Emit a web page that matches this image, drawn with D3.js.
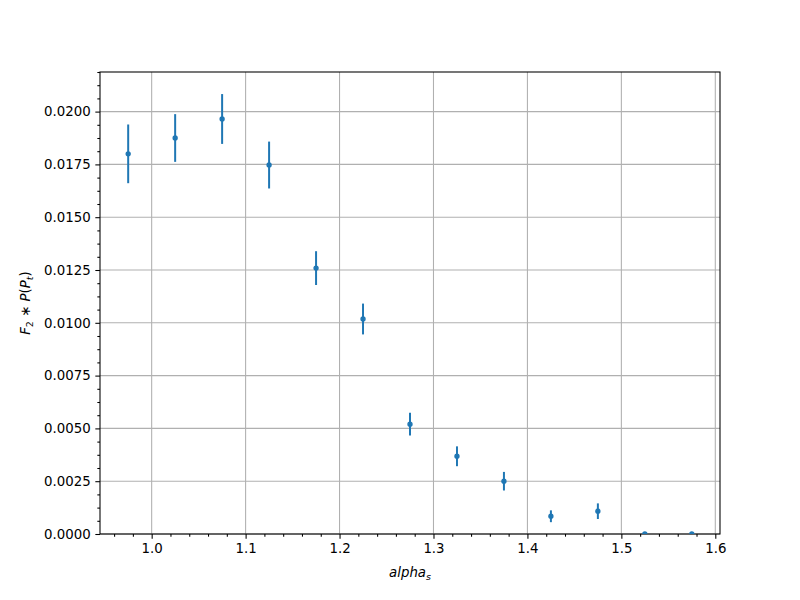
<!DOCTYPE html>
<html>
<head>
<meta charset="utf-8">
<script src="https://cdn.jsdelivr.net/npm/d3@7"></script>
<style>
  html, body { margin: 0; padding: 0; background: #fff; }
  svg { display: block; font-family: "DejaVu Sans", sans-serif; }
</style>
</head>
<body>
<svg id="chart" width="800" height="600"></svg>
<script>
// ---- data ----
const alphaS = [0.975, 1.025, 1.075, 1.125, 1.175, 1.225, 1.275, 1.325, 1.375, 1.425, 1.475, 1.525, 1.575];
const values = [0.0180, 0.01875, 0.01965, 0.01747, 0.01259, 0.01018, 0.0052, 0.00368, 0.0025, 0.00084, 0.00108, 0.0, 0.0];
const errors = [0.00139, 0.00113, 0.00118, 0.00111, 0.0008, 0.00073, 0.00054, 0.00047, 0.00044, 0.00028, 0.00037, 0.0, 0.0];
const xTicks = [1.0, 1.1, 1.2, 1.3, 1.4, 1.5, 1.6];
const yTicks = [0.0, 0.0025, 0.005, 0.0075, 0.01, 0.0125, 0.015, 0.0175, 0.02];

const svg = d3.select("#chart");
const L = 100, R = 720, T = 72, B = 534;
const color = "#1f77b4";

const x = d3.scaleLinear().domain([0.945, 1.605]).range([L, R]);
const y = d3.scaleLinear().domain([0, 0.021875]).range([B, T]);

// grid
const grid = svg.append("g");
grid.selectAll("line.gx").data(xTicks).join("line")
  .attr("x1", d => x(d)).attr("x2", d => x(d)).attr("y1", T).attr("y2", B)
  .attr("stroke", "#b0b0b0").attr("stroke-width", 1.07);
grid.selectAll("line.gy").data(yTicks).join("line")
  .attr("y1", d => y(d)).attr("y2", d => y(d)).attr("x1", L).attr("x2", R)
  .attr("stroke", "#b0b0b0").attr("stroke-width", 1.07);

// minor ticks
const xMinor = d3.range(0.96, 1.605, 0.02).filter(v => Math.abs(Math.round(v * 10) - v * 10) > 1e-6);
const yMinor = d3.range(0, 0.0219, 0.000625).filter(v => Math.abs(Math.round(v / 0.0025) - v / 0.0025) > 1e-6);

const xAxis = svg.append("g").attr("transform", `translate(0,${B})`)
  .call(d3.axisBottom(x).tickValues(xTicks).tickFormat(d3.format(".1f")).tickSizeOuter(0).tickSize(4.67).tickPadding(4.67));
const xMin = svg.append("g").attr("transform", `translate(0,${B})`)
  .call(d3.axisBottom(x).tickValues(xMinor).tickFormat("").tickSizeOuter(0).tickSize(2.67));
const yAxis = svg.append("g").attr("transform", `translate(${L},0)`)
  .call(d3.axisLeft(y).tickValues(yTicks).tickFormat(d3.format(".4f")).tickSizeOuter(0).tickSize(4.67).tickPadding(4.67));
const yMin = svg.append("g").attr("transform", `translate(${L},0)`)
  .call(d3.axisLeft(y).tickValues(yMinor).tickFormat("").tickSizeOuter(0).tickSize(2.67));

[xAxis, xMin, yAxis, yMin].forEach(g => {
  g.select(".domain").remove();
  g.selectAll(".tick line").attr("stroke", "#000").attr("stroke-width", 1.07);
  g.selectAll(".tick text").attr("font-size", "13.33px").attr("fill", "#000")
    .attr("font-family", "DejaVu Sans, sans-serif");
});

// frame
svg.append("rect").attr("x", L).attr("y", T).attr("width", R - L).attr("height", B - T)
  .attr("fill", "none").attr("stroke", "#000").attr("stroke-width", 1.07);

// clip
svg.append("clipPath").attr("id", "clip").append("rect")
  .attr("x", L).attr("y", T).attr("width", R - L).attr("height", B - T);

const data = alphaS.map((a, i) => ({ a, v: values[i], e: errors[i] }));
const plot = svg.append("g").attr("clip-path", "url(#clip)");
plot.selectAll("line.err").data(data).join("line")
  .attr("x1", d => x(d.a)).attr("x2", d => x(d.a))
  .attr("y1", d => y(d.v - d.e)).attr("y2", d => y(d.v + d.e))
  .attr("stroke", color).attr("stroke-width", 2);
plot.selectAll("circle").data(data).join("circle")
  .attr("cx", d => x(d.a)).attr("cy", d => y(d.v)).attr("r", 2)
  .attr("fill", color).attr("stroke", color).attr("stroke-width", 1.33);

// x label: alpha_s
const xl = svg.append("text").attr("x", (L + R) / 2).attr("y", 577)
  .attr("text-anchor", "middle").attr("font-size", "13.33px")
  .attr("font-style", "italic").attr("font-family", "DejaVu Sans, sans-serif");
xl.append("tspan").text("alpha");
xl.append("tspan").attr("font-size", "9.5px").attr("dy", 2.5).text("s");

// y label: F_2 * P(P_t)
const yl = svg.append("text").attr("transform", "translate(30,303) rotate(-90)")
  .attr("text-anchor", "middle").attr("font-size", "13.33px")
  .attr("font-family", "DejaVu Sans, sans-serif");
yl.append("tspan").attr("font-style", "italic").text("F");
yl.append("tspan").attr("font-size", "9.5px").attr("dy", 2.5).text("2");
yl.append("tspan").attr("dy", -2.5).text(" ∗ ");
yl.append("tspan").attr("font-style", "italic").text("P");
yl.append("tspan").text("(");
yl.append("tspan").attr("font-style", "italic").text("P");
yl.append("tspan").attr("font-size", "9.5px").attr("font-style", "italic").attr("dy", 2.5).text("t");
yl.append("tspan").attr("dy", -2.5).text(")");
</script>
</body>
</html>
